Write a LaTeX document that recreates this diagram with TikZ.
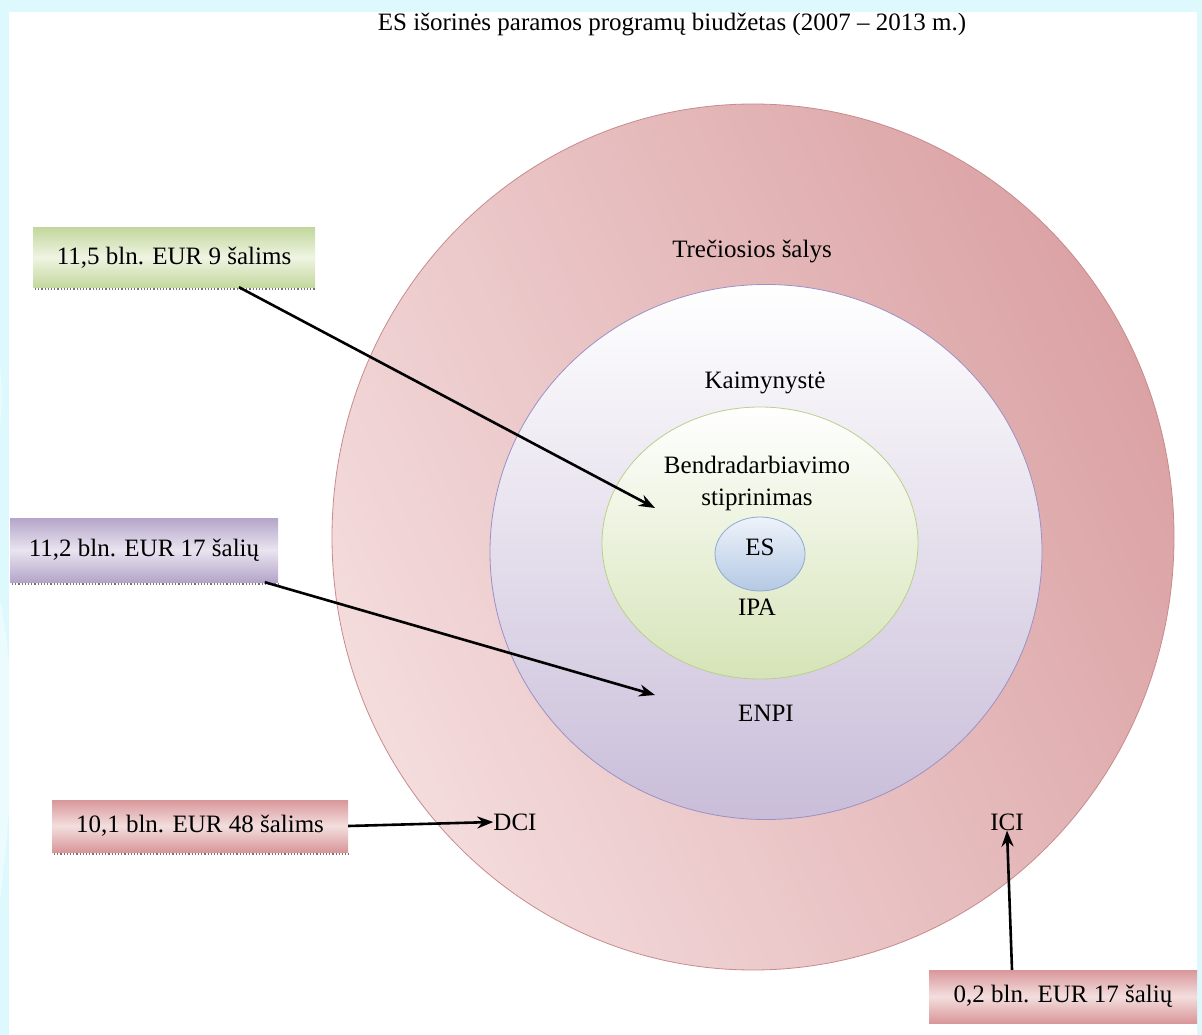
\documentclass[tikz,border=0pt]{standalone}
\usepackage{fontspec}
\setmainfont{Liberation Serif}
\usetikzlibrary{shapes.geometric,calc,arrows.meta}
\definecolor{bgcyan}{HTML}{DDF9FD}
\definecolor{pinkD}{HTML}{DBA2A4}
\definecolor{pinkL}{HTML}{F4DCDD}
\definecolor{pinkE}{HTML}{C98A8C}
\definecolor{lavD}{HTML}{C9BDD9}
\definecolor{lavE}{HTML}{9C90C4}
\definecolor{grnD}{HTML}{D6E4B8}
\definecolor{grnE}{HTML}{B9D08A}
\definecolor{bluD}{HTML}{B4C9E4}
\definecolor{bluL}{HTML}{EEF3FA}
\definecolor{bluE}{HTML}{8EA9CF}
\definecolor{gboxD}{HTML}{C4D89E}
\definecolor{gboxL}{HTML}{EEF4E2}
\definecolor{pboxD}{HTML}{B4A5C9}
\definecolor{pboxL}{HTML}{E9E4F0}
\definecolor{rboxD}{HTML}{D9979A}
\definecolor{rboxL}{HTML}{F3DEDE}
\tikzset{
  lbl/.style={font=\fontsize{25}{32}\selectfont, inner sep=0pt},
  boxstyle/.style={rectangle, inner sep=0pt, font=\fontsize{25}{30}\selectfont},
  shadowline/.style={draw=black!55, line width=1.2pt, dotted},
  arr/.style={-{Stealth[length=16pt,width=12pt]}, line width=2.6pt, black},
}
\begin{document}
\begin{tikzpicture}[x=1pt,y=-1pt]
\useasboundingbox (0,0) rectangle (1202,1035);
% background
\fill[bgcyan] (0,0) rectangle (1202,1035);
\fill[white,opacity=0.45] (-20,300) .. controls (5,340) and (8,420) .. (-10,470) -- cycle;
\fill[white,opacity=0.45] (0,600) .. controls (20,700) and (10,820) .. (0,900) -- cycle;
\fill[white] (9,12) rectangle (1197,1035);
% circles
\node[ellipse, draw=pinkE, line width=0.8pt, top color=pinkD, bottom color=pinkL, shading angle=-65,
      minimum width=842pt, minimum height=866pt] (outer) at (753,537) {};
\node[ellipse, draw=lavE, line width=0.8pt, top color=white, bottom color=lavD,
      minimum width=552pt, minimum height=535pt] (mid) at (766,552) {};
\node[ellipse, draw=grnE, line width=0.8pt, top color=white, bottom color=grnD,
      minimum width=316pt, minimum height=272pt] (grn) at (760,543) {};
\node[ellipse, draw=bluE, line width=0.8pt, top color=bluL, bottom color=bluD,
      minimum width=90pt, minimum height=74pt] (es) at (760,554) {};
% texts
\node[lbl] (title) at (672,25) {ES išorinės paramos programų biudžetas (2007 – 2013 m.)};
\node[lbl] (trec) at (752,252) {Trečiosios šalys};
\node[lbl] (kaim) at (765,383) {Kaimynystė};
\node[lbl, align=center] (bend) at (757,483) {Bendradarbiavimo\\stiprinimas};
\node[lbl] (estxt) at (760,547) {ES};
\node[lbl] (ipa) at (757,607) {IPA};
\node[lbl] (enpi) at (766,713) {ENPI};
\node[lbl] (dci) at (515,822) {DCI};
\node[lbl] (ici) at (1007,822) {ICI};
% boxes
\draw[shadowline] (35,289) -- (316,289);
\node[boxstyle, top color=gboxD, bottom color=gboxD, middle color=gboxL,
      minimum width=282pt, minimum height=59pt] (b1) at (174,257.5) {11,5 bln. EUR 9 šalims};
\draw[shadowline] (12,584) -- (279,584);
\node[boxstyle, top color=pboxD, bottom color=pboxD, middle color=pboxL,
      minimum width=268pt, minimum height=64pt] (b2) at (144,550) {11,2 bln. EUR 17 šalių};
\draw[shadowline] (54,854) -- (349,854);
\node[boxstyle, top color=rboxD, bottom color=rboxD, middle color=rboxL,
      minimum width=296pt, minimum height=52pt] (b3) at (200,826) {10,1 bln. EUR 48 šalims};
\node[boxstyle, top color=rboxD, bottom color=rboxD, middle color=rboxL,
      minimum width=268pt, minimum height=53pt] (b4) at (1063,996.5) {0,2 bln. EUR 17 šalių};
% arrow targets
\coordinate (t1) at (655,508);
\coordinate (t2) at (655,695);
% arrows
\draw[arr] ($(b1.south west)!0.73!(b1.south east)$) -- (t1);
\draw[arr] ($(b2.south west)!0.95!(b2.south east)$) -- (t2);
\draw[arr] (b3.east) -- (dci.west);
\draw[arr] ($(b4.north west)!0.31!(b4.north east)$) -- (ici.south);
\end{tikzpicture}
\end{document}
